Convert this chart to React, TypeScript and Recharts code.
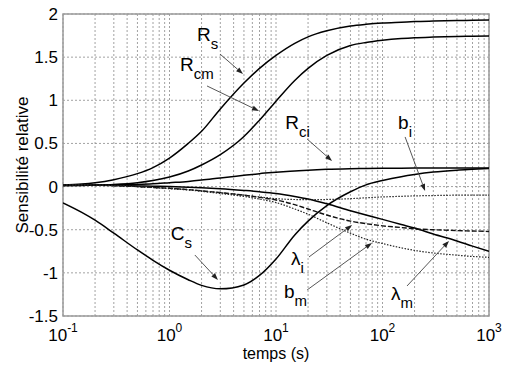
import React from 'react'
import { LineChart, Line, XAxis, YAxis, CartesianGrid, ReferenceLine, ReferenceDot, ReferenceArea, Label } from 'recharts'

// temps (s), log-spaced sample points
const times = [0.1, 0.15, 0.2, 0.3, 0.5, 0.7, 1, 1.5, 2, 3, 5, 7, 10, 15, 20, 30, 50, 70, 100, 150, 200, 300, 500, 700, 1000]

// relative sensitivities
const Rs = [0.02, 0.03, 0.045, 0.08, 0.15, 0.22, 0.33, 0.5, 0.64, 0.9, 1.2, 1.37, 1.52, 1.66, 1.735, 1.805, 1.86, 1.88, 1.895, 1.905, 1.912, 1.918, 1.924, 1.927, 1.93]
const Rcm = [0.01, 0.013, 0.017, 0.025, 0.045, 0.07, 0.11, 0.18, 0.25, 0.37, 0.58, 0.77, 0.99, 1.23, 1.37, 1.52, 1.635, 1.67, 1.695, 1.715, 1.725, 1.733, 1.74, 1.743, 1.745]
const Rci = [0.015, 0.016, 0.018, 0.02, 0.025, 0.032, 0.045, 0.06, 0.075, 0.1, 0.13, 0.15, 0.165, 0.18, 0.19, 0.2, 0.207, 0.21, 0.212, 0.213, 0.214, 0.215, 0.215, 0.215, 0.215]
const Cs = [-0.19, -0.3, -0.39, -0.54, -0.735, -0.855, -0.97, -1.08, -1.145, -1.185, -1.14, -1.03, -0.84, -0.56, -0.4, -0.22, -0.06, 0.02, 0.07, 0.115, 0.14, 0.168, 0.19, 0.2, 0.21]
const lambdaM = [0.02, 0.018, 0.016, 0.013, 0.008, 0.004, 0, -0.007, -0.013, -0.025, -0.045, -0.06, -0.08, -0.115, -0.145, -0.2, -0.28, -0.33, -0.38, -0.44, -0.48, -0.55, -0.63, -0.69, -0.75]
const lambdaI = [0.02, 0.02, 0.018, 0.012, 0, -0.01, -0.02, -0.035, -0.05, -0.07, -0.1, -0.125, -0.155, -0.21, -0.26, -0.33, -0.4, -0.43, -0.455, -0.475, -0.49, -0.5, -0.51, -0.515, -0.52]
const bm = [0.02, 0.02, 0.018, 0.012, 0, -0.012, -0.025, -0.04, -0.055, -0.08, -0.115, -0.145, -0.185, -0.26, -0.32, -0.42, -0.54, -0.61, -0.66, -0.71, -0.74, -0.77, -0.795, -0.81, -0.82]
const bi = [0.02, 0.02, 0.018, 0.012, 0, -0.01, -0.02, -0.035, -0.05, -0.07, -0.1, -0.12, -0.14, -0.15, -0.152, -0.15, -0.14, -0.13, -0.12, -0.113, -0.108, -0.104, -0.1, -0.1, -0.098]

const decades = [0.1, 1, 10, 100, 1000]
const yTicks = [-1.5, -1, -0.5, 0, 0.5, 1, 1.5, 2]

// minor grid: 1..9 in each decade
const xGrid: number[] = []
decades.slice(0, 4).forEach(d => {
  for (let k = 1; k <= 9; k++) xGrid.push(+(d * k).toPrecision(3))
})
xGrid.push(1000)

const data = times.map((t, i) => ({
  t,
  Rs: Rs[i], Rcm: Rcm[i], Rci: Rci[i], Cs: Cs[i],
  lm: lambdaM[i], li: lambdaI[i], bm: bm[i], bi: bi[i],
}))

// curve annotations: label anchor + arrow (data coordinates)
const notes = [
  { main: 'R', sub: 's', x: 1.81, y: 1.687, from: [2.98, 1.536], to: [4.9, 1.305] },
  { main: 'R', sub: 'cm', x: 1.255, y: 1.34, from: [2.25, 1.166], to: [6.92, 0.876] },
  { main: 'R', sub: 'ci', x: 12.2, y: 0.667, from: [19.6, 0.551], to: [33.6, 0.297] },
  { main: 'b', sub: 'i', x: 140, y: 0.667, from: [163, 0.575], to: [251, -0.05] },
  { main: 'C', sub: 's', x: 1.03, y: -0.619, from: [1.73, -0.793], to: [2.85, -1.082] },
  { main: 'λ', sub: 'i', x: 13.8, y: -0.908, from: [20.4, -0.816], to: [51.8, -0.445] },
  { main: 'b', sub: 'm', x: 11.9, y: -1.291, from: [19.6, -1.198], to: [79.6, -0.653] },
  { main: 'λ', sub: 'm', x: 120, y: -1.314, from: [170, -1.152], to: [421, -0.63] },
]

const FONT = '"Liberation Sans", Arial, Helvetica, sans-serif'

const Arrow = (props: any) => {
  const { x1, y1, x2, y2 } = props
  const a = Math.atan2(y2 - y1, x2 - x1)
  const L = 7, W = 2.5
  const bx = x2 - L * Math.cos(a), by = y2 - L * Math.sin(a)
  const p1 = `${bx - W * Math.sin(a)},${by + W * Math.cos(a)}`
  const p2 = `${bx + W * Math.sin(a)},${by - W * Math.cos(a)}`
  return (
    <g>
      <line x1={x1} y1={y1} x2={bx} y2={by} stroke="#444" strokeWidth={0.9} />
      <polygon points={`${x2},${y2} ${p1} ${p2}`} fill="#222" />
    </g>
  )
}

const NoteText = (main: string, sub: string) => (props: any) => (
  <text x={props.cx} y={props.cy} fontFamily={FONT} fontSize={19} fill="#000">
    {main}
    <tspan dy={8} fontSize={15}>{sub}</tspan>
  </text>
)

const XTick = (props: any) => {
  const { x, y, payload } = props
  const v = payload.value
  if (!decades.includes(v)) return null
  const exp = Math.round(Math.log10(v))
  return (
    <text x={x} y={y + 25} textAnchor="middle" fontFamily={FONT} fontSize={17} fill="#000">
      10<tspan dy={-9} fontSize={12}>{exp}</tspan>
    </text>
  )
}

export default function App() {
  return (
    <div style={{ position: 'absolute', left: 0, top: 0, background: '#fff' }}>
      <LineChart width={508} height={366} data={data} margin={{ top: 14, right: 19, bottom: 0, left: 0 }}>
        <CartesianGrid stroke="#8a8a8a" strokeDasharray="2 2" strokeWidth={0.8} />
        <XAxis
          dataKey="t"
          type="number"
          scale="log"
          domain={[0.1, 1000]}
          allowDataOverflow
          ticks={xGrid}
          interval={0}
          tick={<XTick />}
          tickLine={false}
          tickSize={0}
          tickMargin={0}
          axisLine={false}
          height={50}
        >
          <Label
            content={(p: any) => (
              <text x={p.viewBox.x + p.viewBox.width / 2} y={359} textAnchor="middle" fontFamily={FONT} fontSize={16} fill="#000">
                temps (s)
              </text>
            )}
          />
        </XAxis>
        <YAxis
          type="number"
          domain={[-1.5, 2]}
          allowDataOverflow
          ticks={yTicks}
          interval={0}
          tickLine={false}
          tickSize={0}
          tickMargin={5}
          axisLine={false}
          width={63}
          tick={{ fontFamily: FONT, fontSize: 17, fill: '#000' }}
        >
          <Label
            content={(p: any) => (
              <text
                transform={`translate(${p.viewBox.x + 28}, ${p.viewBox.y + p.viewBox.height / 2}) rotate(-90)`}
                textAnchor="middle"
                fontFamily={FONT}
                fontSize={17}
                fill="#000"
              >
                Sensibilité relative
              </text>
            )}
          />
        </YAxis>
        <ReferenceArea x1={0.1} x2={1000} y1={-1.5} y2={2} fill="none" stroke="#9a9a9a" strokeWidth={1.5} ifOverflow="visible" />

        <Line dataKey="Rs" type="monotone" stroke="#000" strokeWidth={1.5} dot={false} isAnimationActive={false} />
        <Line dataKey="Rcm" type="monotone" stroke="#000" strokeWidth={1.5} dot={false} isAnimationActive={false} />
        <Line dataKey="Rci" type="monotone" stroke="#000" strokeWidth={1.5} dot={false} isAnimationActive={false} />
        <Line dataKey="Cs" type="monotone" stroke="#000" strokeWidth={1.5} dot={false} isAnimationActive={false} />
        <Line dataKey="lm" type="monotone" stroke="#000" strokeWidth={1.5} dot={false} isAnimationActive={false} />
        <Line dataKey="li" type="monotone" stroke="#111" strokeWidth={1.4} strokeDasharray="5 2" dot={false} isAnimationActive={false} />
        <Line dataKey="bm" type="monotone" stroke="#222" strokeWidth={1.2} strokeDasharray="1.5 1.5" dot={false} isAnimationActive={false} />
        <Line dataKey="bi" type="monotone" stroke="#222" strokeWidth={1.2} strokeDasharray="1.5 1.5" dot={false} isAnimationActive={false} />

        {notes.map((n, i) => (
          <ReferenceLine
            key={'a' + i}
            segment={[{ x: n.from[0], y: n.from[1] }, { x: n.to[0], y: n.to[1] }]}
            shape={<Arrow />}
          />
        ))}
        {notes.map((n, i) => (
          <ReferenceDot key={'t' + i} x={n.x} y={n.y} r={0} shape={NoteText(n.main, n.sub)} />
        ))}
      </LineChart>
    </div>
  )
}
